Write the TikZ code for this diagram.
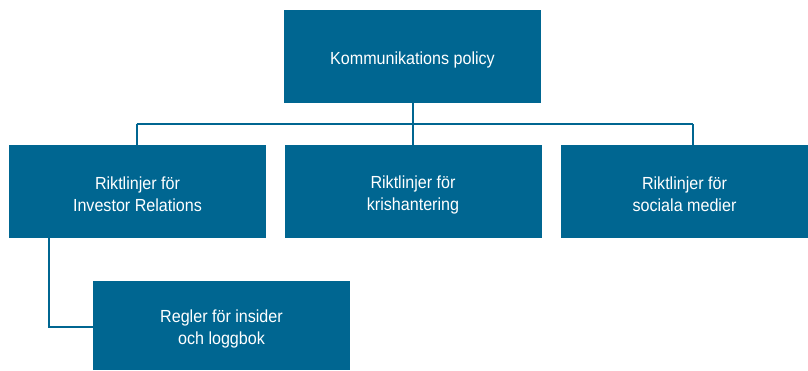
\documentclass[tikz,border=0pt]{standalone}
\usepackage{fontspec}
\setmainfont[FakeStretch=0.92]{Liberation Sans}
\definecolor{boxblue}{HTML}{006691}
\begin{document}
\begin{tikzpicture}[x=1pt,y=-1pt,
  box/.style={fill=boxblue,draw=none,minimum height=93pt,minimum width=257pt},
  txt/.style={text=white,align=center,font=\fontsize{17.5}{22}\selectfont,yshift=-3pt},
  conn/.style={draw=boxblue,line width=2pt}]
\useasboundingbox (0,0) rectangle (808,370);
\node[box,label={[txt]center:Kommunikations policy}] (top) at (412.5,56.5) {};
\node[box,label={[txt]center:Riktlinjer för\\Investor Relations}] (l) at (137.5,191.5) {};
\node[box,label={[txt]center:Riktlinjer för\\krishantering}] (m) at (413,191.5) {};
\node[box,minimum width=247pt,label={[txt]center:Riktlinjer för\\sociala medier}] (r) at (684.5,191.5) {};
\node[box,minimum height=89pt,label={[txt]center:Regler för insider\\och loggbok}] (b) at (221.5,325.5) {};
\coordinate (hl) at (136.5,124);
\coordinate (hr) at (693,124);
\coordinate (hc) at (413,124);
\draw[conn] (top.south -| hc) -- (hc);
\draw[conn] (hl) -- (hr);
\draw[conn] (hl) -- (hl |- l.north);
\draw[conn] (hc) -- (hc |- m.north);
\draw[conn] (hr) -- (hr |- r.north);
\coordinate (bl) at (48.5,327);
\draw[conn] (bl |- l.south) -- (bl) -- (b.west |- bl);
\end{tikzpicture}
\end{document}
